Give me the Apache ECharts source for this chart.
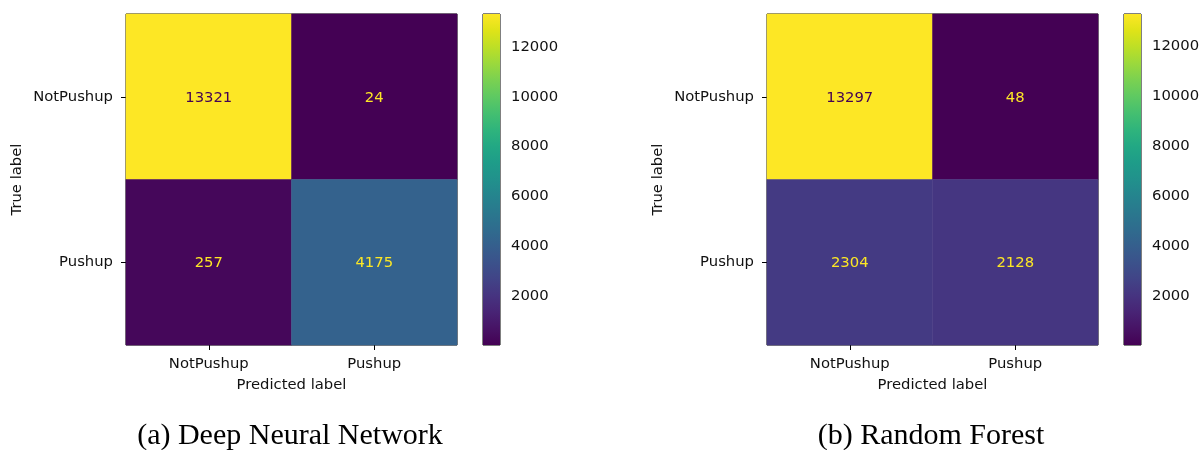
<!DOCTYPE html>
<html>
<head>
<meta charset="utf-8">
<script src="https://cdn.jsdelivr.net/npm/echarts@6/dist/echarts.min.js"></script>
<style>
  html, body { margin: 0; padding: 0; background: #fff; }
  #chart { width: 1203px; height: 450px; }
</style>
</head>
<body>
<div id="chart"></div>
<script>
// Class names shared by both confusion matrices
const predictedLabels = ['NotPushup', 'Pushup'];
const trueLabels = ['NotPushup', 'Pushup'];

// Confusion matrix counts, rows = true label, columns = predicted label
const dnnMatrix = [
  [13321, 24],
  [257, 4175]
];
const rfMatrix = [
  [13297, 48],
  [2304, 2128]
];

// Colorbar tick labels
const colorbarTicks = [2000, 4000, 6000, 8000, 10000, 12000];

// Panel captions
const captions = ['(a) Deep Neural Network', '(b) Random Forest'];

// Viridis colour ramp
const viridis = [
  '#440154', '#471365', '#482475', '#463480', '#414487', '#3b528b',
  '#355f8d', '#2f6c8e', '#2a788e', '#25848e', '#21918c', '#1e9c89',
  '#22a884', '#2fb47c', '#44bf70', '#5ec962', '#7ad151', '#9bd93c',
  '#bddf26', '#dfe318', '#fde725'
];

const FONT = 'DejaVu Sans';
const FS = 14.8;
const INK = '#111';

function buildPanel(matrix, idx, left, cbLeft) {
  const flat = matrix.flat();
  const vmin = Math.min(...flat);
  const vmax = Math.max(...flat);
  const mid = (vmin + vmax) / 2;
  const data = [];
  matrix.forEach((row, r) => {
    row.forEach((v, c) => {
      data.push({
        value: [c, r, v],
        label: { color: v > mid ? viridis[0] : viridis[viridis.length - 1] }
      });
    });
  });
  const gHeat = idx * 2, gBar = idx * 2 + 1;
  const grids = [
    { left: left, top: 14, width: 331, height: 331, show: true, borderColor: '#000', borderWidth: 1, backgroundColor: 'transparent' },
    { left: cbLeft, top: 14, width: 17, height: 331, show: true, borderColor: '#000', borderWidth: 1, backgroundColor: 'transparent' }
  ];
  const xAxes = [
    {
      gridIndex: gHeat, type: 'category', data: predictedLabels,
      name: 'Predicted label', nameLocation: 'middle', nameGap: 33,
      nameTextStyle: { fontFamily: FONT, fontSize: FS, color: INK },
      axisLine: { show: false },
      axisTick: { show: true, alignWithLabel: true, length: 5, lineStyle: { color: '#000' } },
      axisLabel: { fontFamily: FONT, fontSize: FS, color: INK, margin: 12 },
      splitLine: { show: false }
    },
    {
      gridIndex: gBar, type: 'value', min: 0, max: 1, show: false
    }
  ];
  const yAxes = [
    {
      gridIndex: gHeat, type: 'category', data: trueLabels, inverse: true,
      name: 'True label', nameLocation: 'middle', nameGap: 101, nameRotate: 90,
      nameTextStyle: { fontFamily: FONT, fontSize: FS, color: INK },
      axisLine: { show: false },
      axisTick: { show: true, alignWithLabel: true, length: 5, lineStyle: { color: '#000' } },
      axisLabel: { fontFamily: FONT, fontSize: FS, color: INK, margin: 13 },
      splitLine: { show: false }
    },
    {
      gridIndex: gBar, type: 'value', position: 'right', min: vmin, max: vmax,
      axisLine: { show: false },
      axisTick: { show: true, length: 5, lineStyle: { color: '#000' }, customValues: colorbarTicks },
      axisLabel: { fontFamily: FONT, fontSize: FS, color: INK, margin: 11, customValues: colorbarTicks, formatter: v => String(v) },
      splitLine: { show: false }
    }
  ];
  const stops = viridis.map((c, i) => ({ offset: i / (viridis.length - 1), color: c }));
  const series = [
    {
      type: 'heatmap', xAxisIndex: idx * 2, yAxisIndex: idx * 2, data: data,
      label: { show: true, fontFamily: FONT, fontSize: FS, offset: [0, 1], formatter: p => String(p.value[2]) },
      emphasis: { disabled: true },
      silent: true
    },
    {
      type: 'custom', xAxisIndex: idx * 2 + 1, yAxisIndex: idx * 2 + 1,
      data: [[0, vmin, 1, vmax]],
      silent: true,
      renderItem: function (params, api) {
        const p0 = api.coord([api.value(0), api.value(3)]);
        const p1 = api.coord([api.value(2), api.value(1)]);
        return {
          type: 'rect',
          shape: { x: p0[0], y: p0[1], width: p1[0] - p0[0], height: p1[1] - p0[1] },
          style: { fill: { type: 'linear', x: 0, y: 1, x2: 0, y2: 0, colorStops: stops } }
        };
      }
    }
  ];
  const visualMap = {
    show: false, type: 'continuous', seriesIndex: idx * 2,
    min: vmin, max: vmax, dimension: 2,
    inRange: { color: viridis }
  };
  return { grids, xAxes, yAxes, series, visualMap };
}

const a = buildPanel(dnnMatrix, 0, 126, 483);
const b = buildPanel(rfMatrix, 1, 767, 1124);

const captionStyle = { fontFamily: 'Liberation Serif', fontWeight: 'normal', fontSize: 30, color: '#000' };

const chart = echarts.init(document.getElementById('chart'), null, { renderer: 'canvas' });
chart.setOption({
  animation: false,
  backgroundColor: '#fff',
  title: [
    { text: captions[0], left: 285, top: 416, textAlign: 'center', textStyle: captionStyle },
    { text: captions[1], left: 926, top: 416, textAlign: 'center', textStyle: captionStyle }
  ],
  grid: [...a.grids, ...b.grids],
  xAxis: [...a.xAxes, ...b.xAxes],
  yAxis: [...a.yAxes, ...b.yAxes],
  visualMap: [a.visualMap, b.visualMap],
  series: [...a.series, ...b.series]
});
</script>
</body>
</html>
